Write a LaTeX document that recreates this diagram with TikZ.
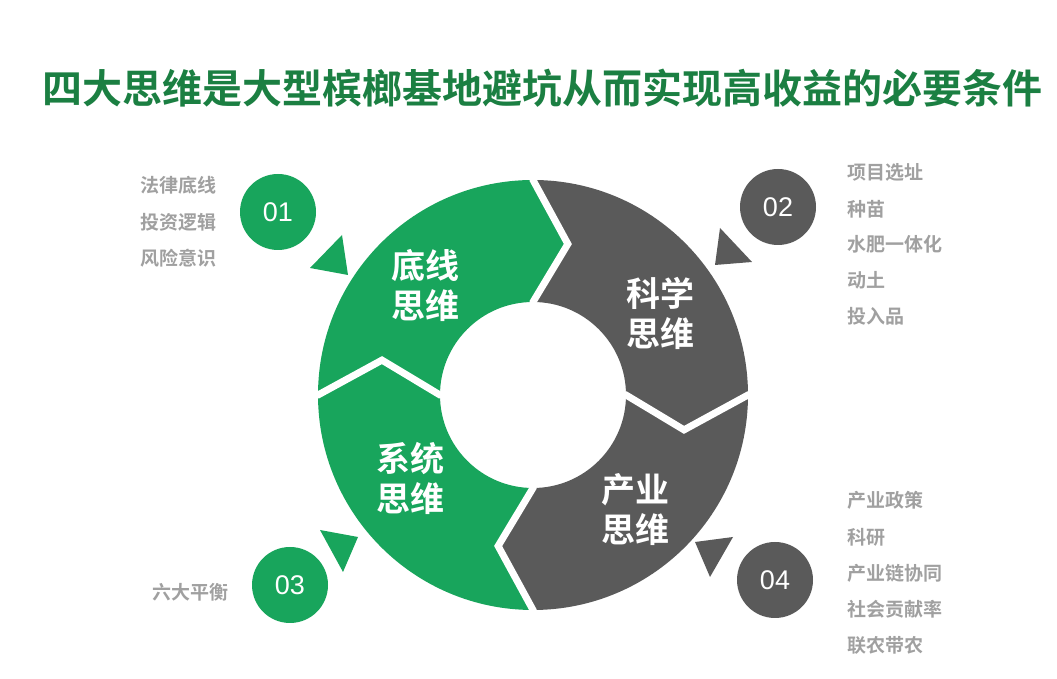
\documentclass[tikz,border=0pt]{standalone}
\usepackage{fontspec}
\setmainfont{Noto Sans CJK SC}
\newfontfamily\cjkb{Noto Sans CJK SC Bold}
\newfontfamily\numf{Liberation Sans}
\definecolor{gr}{HTML}{18A55C}
\definecolor{dk}{HTML}{5A5A5A}
\definecolor{tg}{HTML}{1B7F42}
\definecolor{lt}{HTML}{A0A0A0}
\tikzset{
  seglabel/.style={text=white,font=\cjkb\fontsize{34}{40}\selectfont,align=center},
  listtxt/.style={text=lt,font=\cjkb\fontsize{19}{22}\selectfont},
  numc/.style={circle,minimum size=76pt,inner sep=0pt,text=white,font=\numf\fontsize{27}{30}\selectfont},
  gap/.style={draw=white,line width=7pt,line join=miter}
}
\begin{document}
\begin{tikzpicture}[x=1pt,y=1pt]
\useasboundingbox (0,0) rectangle (1057,679);
\node[text=tg,font=\cjkb\fontsize{40}{46}\selectfont] (title) at (542,591) {四大思维是大型槟榔基地避坑从而实现高收益的必要条件};
\def\R{215}\def\r{93}\def\Rm{155}\def\d{13}
\begin{scope}[shift={(533,284)}]
\foreach \t/\c in {180/gr,90/dk,0/dk,270/gr}{
  \pgfmathsetmacro\tt{\t-90}
  \fill[\c] (\t:\R) arc[start angle=\t,end angle=\tt,radius=\R] -- (\tt-\d:\Rm) -- (\tt:\r)
     arc[start angle=\tt,end angle=\t,radius=\r] -- (\t-\d:\Rm) -- cycle;
}
\foreach \t in {0,90,180,270}{
  \draw[gap] (\t:\R+6) -- (\t:\R) -- (\t-\d:\Rm) -- (\t:\r) -- (\t:\r-6);
}
\end{scope}
\node[seglabel] (s1) at (425,394) {底线\\思维};
\node[seglabel] (s2) at (660,366) {科学\\思维};
\node[seglabel] (s3) at (410,201) {系统\\思维};
\node[seglabel] (s4) at (635,169) {产业\\思维};
\fill[gr] (310,411) -- (342,444) -- (348,404) -- cycle;
\fill[dk] (715,414) -- (720,451) -- (752,417) -- cycle;
\fill[gr] (320,149) -- (358,142) -- (343,107) -- cycle;
\fill[dk] (695,137) -- (733,142) -- (710,102) -- cycle;
\node[numc,fill=gr] (n1) at (278,467) {01};
\node[numc,fill=dk] (n2) at (778,472) {02};
\node[numc,fill=gr] (n3) at (290,94) {03};
\node[numc,fill=dk] (n4) at (775,99) {04};
\node[listtxt,anchor=east] (a1) at (220,494) {法律底线};
\node[listtxt,anchor=east] (a2) at (220,457) {投资逻辑};
\node[listtxt,anchor=east] (a3) at (220,421) {风险意识};
\node[listtxt,anchor=west] (b1) at (844,507) {项目选址};
\node[listtxt,anchor=west] (b2) at (844,470) {种苗};
\node[listtxt,anchor=west] (b3) at (844,435) {水肥一体化};
\node[listtxt,anchor=west] (b4) at (844,399) {动土};
\node[listtxt,anchor=west] (b5) at (844,363) {投入品};
\node[listtxt,anchor=east] (c1) at (232,87) {六大平衡};
\node[listtxt,anchor=west] (d1) at (844,179) {产业政策};
\node[listtxt,anchor=west] (d2) at (844,142) {科研};
\node[listtxt,anchor=west] (d3) at (844,106) {产业链协同};
\node[listtxt,anchor=west] (d4) at (844,70) {社会贡献率};
\node[listtxt,anchor=west] (d5) at (844,34) {联农带农};
\end{tikzpicture}
\end{document}
